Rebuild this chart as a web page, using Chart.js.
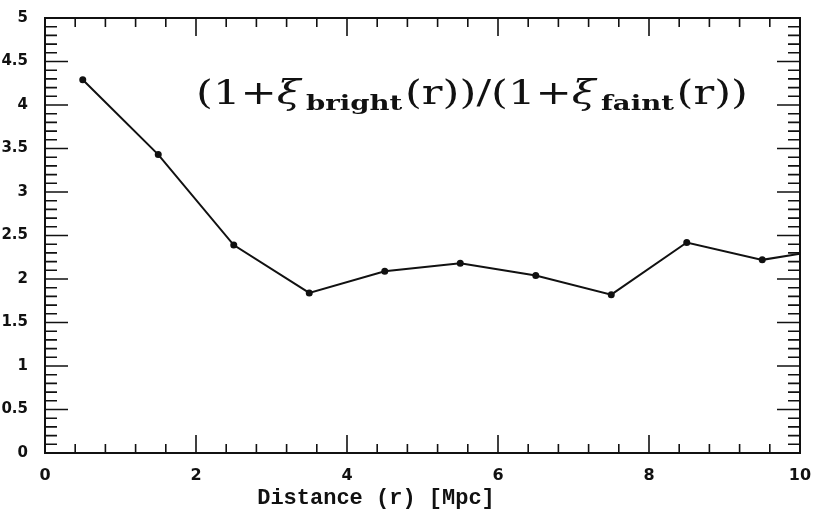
<!DOCTYPE html>
<html><head><meta charset="utf-8">
<script src="https://cdn.jsdelivr.net/npm/chart.js@4"></script>
<style>html,body{margin:0;padding:0;background:#fff}#wrap{width:817px;height:511px}</style>
</head><body><div id="wrap"><canvas id="c" width="817" height="511"></canvas></div>
<script>
const distances = [0.5, 1.5, 2.5, 3.5, 4.5, 5.5, 6.5, 7.5, 8.5, 9.5, 10.5];
const ratio = [4.29, 3.43, 2.39, 1.84, 2.09, 2.18, 2.04, 1.82, 2.42, 2.22, 2.36];
const xTitle = 'Distance (r) [Mpc]';
const labelParts = [['(1+', 'main'], ['ξ', 'greek'], ['bright', 'sub'], ['(r))/(1+', 'main'], ['ξ', 'greek'], ['faint', 'sub'], ['(r))', 'main']];

const ink = '#111';
const framePlugin = {
  id: 'frame',
  afterDraw(chart) {
    const {ctx, chartArea: a, scales: {x, y}} = chart;
    ctx.save();
    ctx.strokeStyle = ink;
    ctx.lineWidth = 2;
    ctx.strokeRect(a.left, a.top, a.right - a.left, a.bottom - a.top);
    ctx.lineWidth = 1.6;
    ctx.beginPath();
    for (let i = 0; i <= 50; i++) {
      const v = i / 10;
      const py = y.getPixelForValue(v);
      const len = (i % 5 === 0) ? 23 : 12;
      ctx.moveTo(a.left, py); ctx.lineTo(a.left + len, py);
      ctx.moveTo(a.right, py); ctx.lineTo(a.right - len, py);
    }
    for (let i = 0; i <= 25; i++) {
      const v = i * 0.4;
      const px = x.getPixelForValue(v);
      const len = (i % 5 === 0) ? 18 : 9;
      ctx.moveTo(px, a.bottom); ctx.lineTo(px, a.bottom - len);
      ctx.moveTo(px, a.top); ctx.lineTo(px, a.top + len);
    }
    ctx.stroke();
    // axis title
    ctx.fillStyle = ink;
    ctx.font = 'bold 22px "Liberation Mono"';
    ctx.textAlign = 'center';
    ctx.textBaseline = 'middle';
    ctx.fillText(xTitle, 376, 498);
    // annotation
    ctx.textAlign = 'left';
    ctx.textBaseline = 'alphabetic';
    const fonts = {main: '33px "DejaVu Serif"', greek: 'italic 33px "DejaVu Serif"', sub: 'bold 21px "DejaVu Serif"'};
    let total = 0;
    for (const [t, kind] of labelParts) {
      ctx.font = fonts[kind];
      total += ctx.measureText(t).width + (kind === 'sub' ? 6 : 0);
    }
    const x0 = 196, targetW = 552;
    const sx = targetW / total;
    ctx.translate(x0, 0);
    ctx.scale(sx, 1);
    let cx = 0;
    for (const [t, kind] of labelParts) {
      ctx.font = fonts[kind];
      if (kind === 'sub') { cx += 4; ctx.fillText(t, cx, 110); cx += ctx.measureText(t).width + 2; }
      else { ctx.fillText(t, cx, 104); cx += ctx.measureText(t).width; }
    }
    ctx.restore();
  }
};

new Chart(document.getElementById('c'), {
  type: 'line',
  data: {
    datasets: [{
      data: distances.map((d, i) => ({x: d, y: ratio[i]})),
      borderColor: ink,
      backgroundColor: ink,
      borderWidth: 2,
      pointRadius: 2.5,
      pointHoverRadius: 2.5,
      tension: 0
    }]
  },
  options: {
    responsive: false,
    animation: false,
    events: [],
    layout: {padding: {top: 15, right: 17, left: 0, bottom: 0}},
    plugins: {legend: {display: false}, tooltip: {enabled: false}},
    scales: {
      x: {
        type: 'linear', min: 0, max: 10,
        ticks: {stepSize: 2, color: ink, padding: 5, font: {family: 'DejaVu Sans', weight: 'bold', size: 16}, maxRotation: 0,
          callback: v => String(v)},
        grid: {display: false},
        border: {display: false},
        afterFit(s) { s.height = 58; }
      },
      y: {
        type: 'linear', min: 0, max: 5,
        ticks: {stepSize: 0.5, color: ink, padding: 9, font: {family: 'DejaVu Sans', weight: 'bold', size: 15},
          callback: v => String(v)},
        grid: {display: false},
        border: {display: false},
        afterFit(s) { s.width = 45; }
      }
    }
  },
  plugins: [framePlugin]
});
</script></body></html>
